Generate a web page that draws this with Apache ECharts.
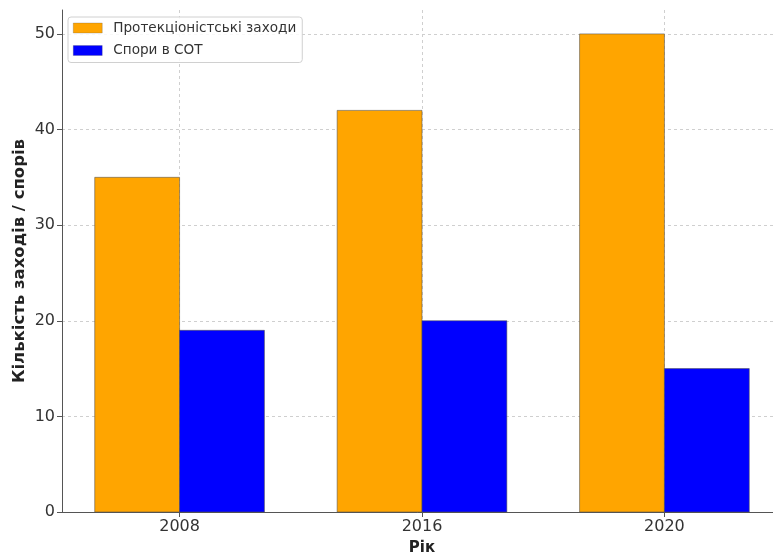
<!DOCTYPE html>
<html>
<head>
<meta charset="utf-8">
<script src="https://cdn.jsdelivr.net/npm/echarts@6/dist/echarts.min.js"></script>
<style>
html,body{margin:0;padding:0;background:#fff;}
#chart{width:773px;height:553px;}
</style>
</head>
<body>
<div id="chart"></div>
<script>
const categories = ['2008', '2016', '2020'];
const protectionism = [35, 42, 50];
const disputes = [19, 20, 15];
const seriesNames = ['Протекціоністські заходи', 'Спори в СОТ'];
const yTicks = [0, 10, 20, 30, 40, 50];

const colors = ['#FFA500', '#0000FF'];
const FONT = 'DejaVu Sans';
const BAR_W = 0.35;

function renderBar(offset) {
  return function (params, api) {
    const x = api.value(0);
    const y = api.value(1);
    const p0 = api.coord([x + offset - BAR_W / 2, y]);
    const p1 = api.coord([x + offset + BAR_W / 2, 0]);
    return {
      type: 'rect',
      shape: { x: p0[0], y: p0[1], width: p1[0] - p0[0], height: p1[1] - p0[1] },
      style: { fill: colors[params.seriesIndex], stroke: 'rgba(80,80,80,0.55)', lineWidth: 1 }
    };
  };
}

const chart = echarts.init(document.getElementById('chart'), null, { renderer: 'canvas' });
chart.setOption({
  animation: false,
  textStyle: { fontFamily: FONT },
  grid: { left: 62, top: 10, width: 720, bottom: 41, containLabel: false, outerBoundsMode: 'none' },
  legend: {
    left: 68, top: 17, orient: 'vertical',
    data: seriesNames.map((n, i) => ({ name: n, itemStyle: { color: colors[i], borderColor: 'rgba(80,80,80,0.5)', borderWidth: 0.5 } })),
    icon: 'rect', itemWidth: 29, itemHeight: 10, itemGap: 6.5,
    padding: [3, 6, 4, 5],
    backgroundColor: 'rgba(255,255,255,0.85)', borderColor: '#d0d0d0', borderWidth: 1, borderRadius: 3,
    textStyle: { fontFamily: FONT, fontSize: 13.6, color: '#333', lineHeight: 16, padding: [0, 0, 0, 6] }
  },
  xAxis: {
    type: 'value', min: -0.485, max: 2.485,
    name: 'Рік', nameLocation: 'middle', nameGap: 29, nameMoveOverlap: false,
    nameTextStyle: { fontFamily: FONT, fontSize: 15, fontWeight: 'bold', color: '#222' },
    axisLine: { show: true, onZero: false, lineStyle: { color: '#555', width: 1 } },
    axisTick: { show: true, inside: false, length: 5, lineStyle: { color: '#555' }, customValues: [0, 1, 2] },
    axisLabel: { customValues: [0, 1, 2], formatter: v => categories[Math.round(v)], fontFamily: FONT, fontSize: 16, color: '#333', margin: 7 },
    splitLine: { show: true, lineStyle: { color: '#cfcfcf', type: [3, 3], width: 1 } }
  },
  yAxis: {
    type: 'value', min: 0, max: 52.5,
    name: 'Кількість заходів / спорів', nameLocation: 'middle', nameGap: 34, nameMoveOverlap: false,
    nameTextStyle: { fontFamily: FONT, fontSize: 16.5, fontWeight: 'bold', color: '#222' },
    axisLine: { show: true, onZero: false, lineStyle: { color: '#555', width: 1 } },
    axisTick: { show: true, inside: false, length: 5, lineStyle: { color: '#555' }, customValues: yTicks },
    axisLabel: { customValues: yTicks, fontFamily: FONT, fontSize: 16, color: '#333', margin: 7 },
    splitLine: { show: true, lineStyle: { color: '#cfcfcf', type: [3, 3], width: 1 } }
  },
  series: [
    {
      name: seriesNames[0], type: 'custom', renderItem: renderBar(-BAR_W / 2),
      itemStyle: { color: colors[0] },
      encode: { x: 0, y: 1 },
      data: protectionism.map((v, i) => [i, v])
    },
    {
      name: seriesNames[1], type: 'custom', renderItem: renderBar(BAR_W / 2),
      itemStyle: { color: colors[1] },
      encode: { x: 0, y: 1 },
      data: disputes.map((v, i) => [i, v])
    }
  ]
});
</script>
</body>
</html>
